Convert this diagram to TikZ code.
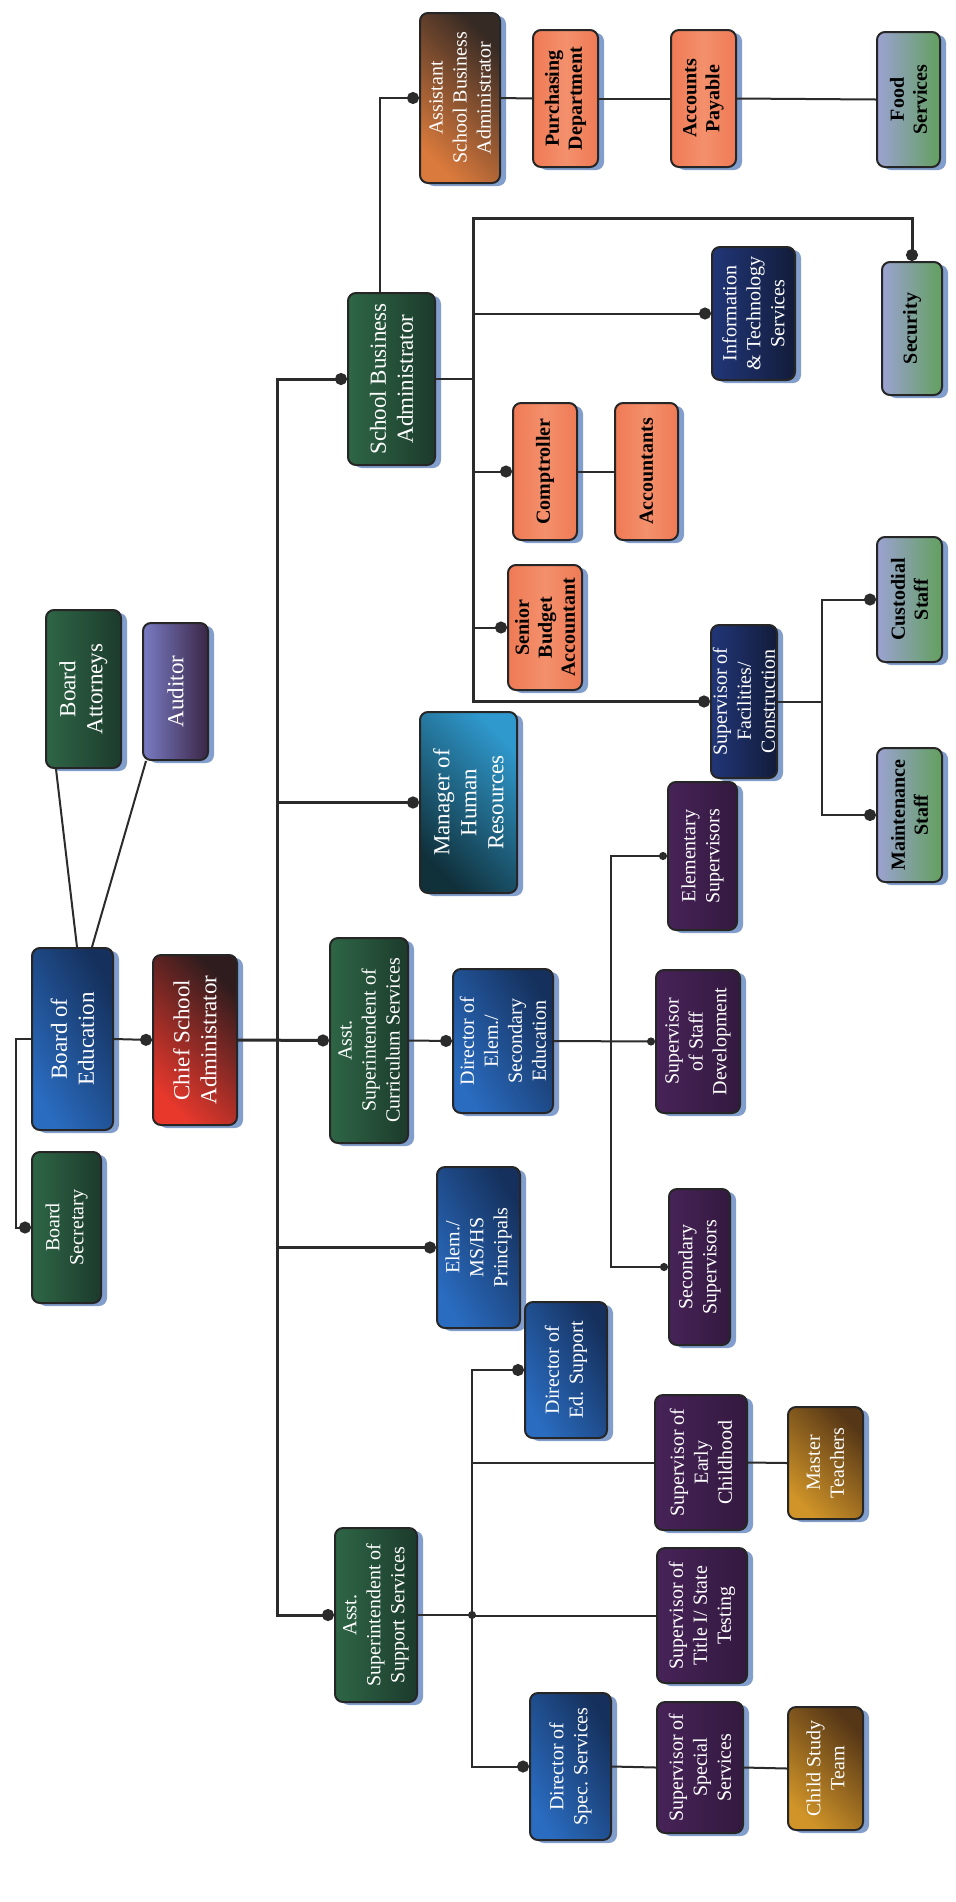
\documentclass[tikz,border=0pt]{standalone}
\usepackage{fontspec}
\setmainfont{Liberation Serif}
\usetikzlibrary{fit,calc,shadows,arrows.meta}

% palette
\definecolor{lnk}{HTML}{2B2B2B}
\definecolor{boxline}{HTML}{262626}
\definecolor{shadowblue}{HTML}{6C8EC4}
\definecolor{grnA}{HTML}{2E6646}
\definecolor{grnB}{HTML}{1C3B2C}
\definecolor{bluA}{HTML}{2A6CC0}
\definecolor{bluB}{HTML}{15305C}
\definecolor{redA}{HTML}{E8382C}
\definecolor{redB}{HTML}{2E1C1E}
\definecolor{audA}{HTML}{7A7CC4}
\definecolor{audB}{HTML}{3A2646}
\definecolor{tealA}{HTML}{2F98CC}
\definecolor{tealB}{HTML}{10303A}
\definecolor{rustA}{HTML}{DA7A3C}
\definecolor{rustB}{HTML}{362A24}
\definecolor{orgA}{HTML}{F4906C}
\definecolor{orgB}{HTML}{EF7A55}
\definecolor{sageA}{HTML}{9CA2D2}
\definecolor{sageB}{HTML}{62A05E}
\definecolor{navyA}{HTML}{213678}
\definecolor{navyB}{HTML}{121C3A}
\definecolor{purA}{HTML}{472358}
\definecolor{purM}{HTML}{7A4694}
\definecolor{purB}{HTML}{33193F}
\definecolor{goldA}{HTML}{D09428}
\definecolor{goldB}{HTML}{553616}

\tikzset{
  x=0.5pt, y=-0.5pt,
  lk/.style={draw=lnk, line width=1pt},
  lkt/.style={draw=lnk, line width=1.5pt},
  dot/.style={-{Circle[length=6pt]}},
  dotdot/.style={{Circle[length=6pt]}-{Circle[length=6pt]}},
  sdot/.style={-{Circle[length=4pt]}},
  sdotdot/.style={{Circle[length=4pt]}-{Circle[length=4pt]}},
  box/.style={draw=boxline, line width=1pt, rounded corners=4pt, inner sep=0pt,
    drop shadow={shadow xshift=3pt, shadow yshift=-1.5pt, fill=shadowblue, opacity=0.85}},
  greenbox/.style={left color=grnA, right color=grnB},
  bluebox/.style={top color=bluB, bottom color=bluA, shading angle=-60},
  chiefbox/.style={top color=redB, bottom color=redA, shading angle=-45},
  audbox/.style={left color=audA, right color=audB},
  tealbox/.style={top color=tealA, bottom color=tealB, shading angle=-45},
  rustbox/.style={top color=rustB, bottom color=rustA, shading angle=-45},
  orangebox/.style={left color=orgB, right color=orgB, middle color=orgA},
  sagebox/.style={left color=sageA, right color=sageB},
  navybox/.style={left color=navyA, right color=navyB},
  purplebox/.style={left color=purA, middle color=purM, right color=purB},
  goldbox/.style={top color=goldB, bottom color=goldA, shading angle=-45},
  tx/.style={rotate=90, align=center, text=white, inner sep=0pt,
    font=\fontsize{10}{12}\selectfont},
  txl/.style={tx, font=\fontsize{11.5}{13.5}\selectfont},
  bt/.style={rotate=90, align=center, text=black, inner sep=0pt,
    font=\fontsize{10}{11.5}\selectfont\bfseries},
}

% #1 box style, #2 text style, #3 name, #4-#7 corners, #8 label
\newcommand\orgbox[8]{%
  \node[box,#1,fit={(#4,#5) (#6,#7)}] (#3) {};
  \node[#2] (#3-t) at (#3.center) {#8};}

\begin{document}
\begin{tikzpicture}
\fill[white] (0,0) rectangle (956,1902);
\useasboundingbox (0,0) rectangle (956,1902);

% board level
\orgbox{greenbox}{tx}{bsec}{32}{1152}{101}{1303}{Board\\Secretary}
\orgbox{bluebox}{txl}{boe}{32}{948}{113}{1130}{Board of\\Education}
\orgbox{greenbox}{txl}{ba}{46}{610}{121}{768}{Board\\Attorneys}
\orgbox{audbox}{txl}{aud}{143}{623}{208}{760}{Auditor}
\orgbox{chiefbox}{txl}{csa}{153}{955}{237}{1125}{Chief School\\Administrator}

% second level
\orgbox{greenbox}{txl}{sba}{348}{293}{435}{465}{School Business\\Administrator}
\orgbox{tealbox}{txl}{hr}{420}{712}{517}{893}{Manager of\\Human\\Resources}
\orgbox{greenbox}{tx}{acs}{330}{938}{408}{1143}{Asst.\\Superintendent of\\Curriculum Services}
\orgbox{bluebox}{tx}{prin}{437}{1167}{520}{1328}{Elem./\\MS/HS\\Principals}
\orgbox{greenbox}{tx}{ass}{335}{1528}{417}{1702}{Asst.\\Superintendent of\\Support Services}

% business branch
\orgbox{rustbox}{tx}{asba}{420}{13}{500}{183}{Assistant\\School Business\\Administrator}
\orgbox{orangebox}{bt}{pur}{533}{30}{598}{167}{Purchasing\\Department}
\orgbox{orangebox}{bt}{ap}{671}{30}{736}{167}{Accounts\\Payable}
\orgbox{sagebox}{bt}{food}{877}{32}{940}{167}{Food\\Services}
\orgbox{sagebox}{bt}{sec}{882}{262}{942}{395}{Security}
\orgbox{navybox}{tx}{it}{712}{247}{795}{380}{Information\\\& Technology\\Services}
\orgbox{orangebox}{bt}{comp}{513}{403}{577}{540}{Comptroller}
\orgbox{orangebox}{bt}{acct}{615}{403}{678}{540}{Accountants}
\orgbox{orangebox}{bt}{sbud}{508}{565}{582}{690}{Senior\\Budget\\Accountant}
\orgbox{navybox}{tx}{sf}{711}{625}{777}{778}{Supervisor of\\Facilities/\\Construction}
\orgbox{sagebox}{bt}{cust}{877}{537}{942}{662}{Custodial\\Staff}
\orgbox{sagebox}{bt}{maint}{877}{748}{942}{882}{Maintenance\\Staff}

% curriculum branch
\orgbox{bluebox}{tx}{des}{453}{969}{553}{1113}{Director of\\Elem./\\Secondary\\Education}
\orgbox{purplebox}{tx}{es}{668}{782}{737}{930}{Elementary\\Supervisors}
\orgbox{purplebox}{tx}{ssd}{656}{970}{740}{1113}{Supervisor\\of Staff\\Development}
\orgbox{purplebox}{tx}{secs}{669}{1189}{730}{1345}{Secondary\\Supervisors}

% support branch
\orgbox{bluebox}{tx}{dse}{525}{1302}{607}{1438}{Director of\\Ed. Support}
\orgbox{purplebox}{tx}{ec}{655}{1395}{747}{1530}{Supervisor of\\Early\\Childhood}
\orgbox{goldbox}{tx}{mt}{788}{1407}{863}{1519}{Master\\Teachers}
\orgbox{purplebox}{tx}{t1}{657}{1548}{747}{1683}{Supervisor of\\Title I/ State\\Testing}
\orgbox{bluebox}{tx}{dsp}{530}{1693}{611}{1840}{Director of\\Spec. Services}
\orgbox{purplebox}{tx}{sss}{657}{1702}{743}{1833}{Supervisor of\\Special\\Services}
\orgbox{goldbox}{tx}{cst}{788}{1707}{863}{1830}{Child Study\\Team}

% vertical rails
\coordinate (vboard) at (16,0);
\coordinate (tr) at (277,0);
\coordinate (vasba) at (380,0);
\coordinate (vb) at (473,218);
\coordinate (vc) at (611,0);
\coordinate (vs) at (472,0);
\coordinate (vf) at (822,0);

% board connectors
\draw[lk, dot] (boe.west) -- (boe.west -| vboard) |- (bsec.west);
\draw[lk] ($(ba.south west)+(11,0)$) -- ($(boe.north west)+(46,0)$);
\draw[lk] ($(aud.south west)+(4,0)$) -- ($(boe.north west)+(61,0)$);
\draw[lk, dot] (boe.east) -- (csa.west);

% main trunk
\draw[lkt, dot] (csa.east) -- (acs.west);
\draw[lkt, dotdot] (sba.west) -- (sba.west -| tr) |- (ass.west);
\draw[lkt, dot] (hr.west -| tr) -- (hr.west);
\draw[lkt, dot] (prin.west -| tr) -- (prin.west);

% business administrator
\draw[lk, dot] (vasba |- sba.north) |- (asba.west);
\draw[lk] (asba.east) -- (pur.west);
\draw[lk] (pur.east) -- (ap.west);
\draw[lk] (ap.east) -- (food.west);
\draw[lk] (sba.east) -- (sba.east -| vb);
\draw[lkt, dotdot] (sec.north) |- (vb) |- (sf.west);
\draw[lk, dot] (it.west -| vb) -- (it.west);
\draw[lk, dot] (comp.west -| vb) -- (comp.west);
\draw[lk, dot] (sbud.west -| vb) -- (sbud.west);
\draw[lk] (comp.east) -- (acct.west);
\draw[lk] (sf.east) -- (sf.east -| vf);
\draw[lk, dotdot] (cust.west) -| (vf |- maint.west) -- (maint.west);

% curriculum
\draw[lk, dot] (acs.east) -- (des.west);
\draw[lk, sdot] (des.east) -- (ssd.west);
\draw[lk, sdotdot] (es.west) -| (vc |- secs.west) -- (secs.west);

% support services
\draw[lk] (ass.east) -- (ass.east -| vs);
\fill[lnk] (ass.east -| vs) circle (2pt);
\draw[lk, dotdot] (dse.west) -| (vs |- dsp.west) -- (dsp.west);
\draw[lk] (ec.west -| vs) -- (ec.west);
\draw[lk] (t1.west -| vs) -- (t1.west);
\draw[lk] (ec.east) -- (mt.west);
\draw[lk] (dsp.east) -- (sss.west);
\draw[lk] (sss.east) -- (cst.west);
\end{tikzpicture}
\end{document}
